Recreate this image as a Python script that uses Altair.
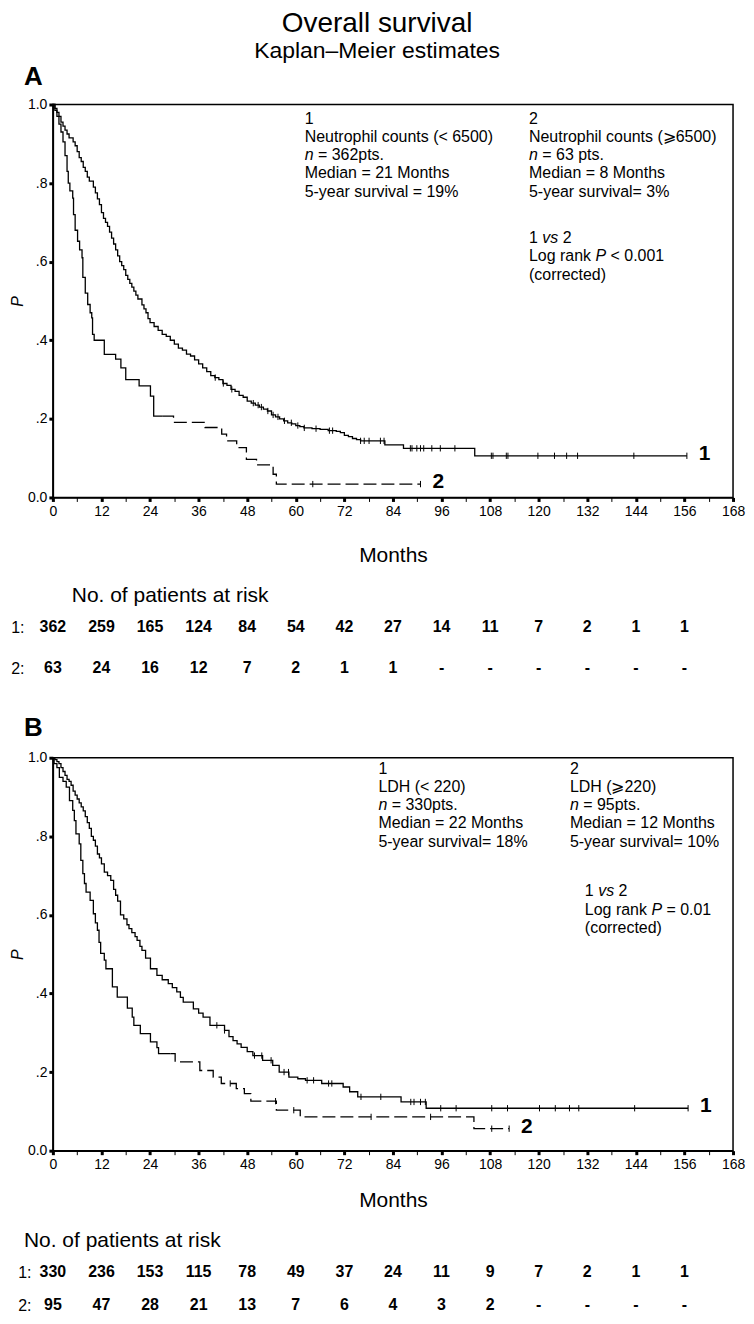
import altair as alt
import pandas as pd

# ------------------------------------------------------------------ data
RISK_MONTHS = [0, 12, 24, 36, 48, 60, 72, 84, 96, 108, 120, 132, 144, 156]

# Panel A - neutrophil counts.  (month, survival after the step)
A1_STEPS = [(0, 1.0), (0.5, 0.99), (1, 0.98), (1.5, 0.97), (2, 0.955), (2.5, 0.945), (3, 0.935),
            (3.5, 0.925), (4, 0.915), (5, 0.905), (5.5, 0.895), (6, 0.88), (6.5, 0.865), (7, 0.855),
            (7.5, 0.84), (8, 0.83), (8.5, 0.815), (9, 0.805), (10, 0.79), (10.5, 0.775), (11, 0.76),
            (11.5, 0.745), (12, 0.725), (12.5, 0.71), (13, 0.70), (13.5, 0.69), (14, 0.675),
            (14.5, 0.66), (15, 0.645), (15.5, 0.63), (16, 0.615), (16.5, 0.60), (17, 0.59),
            (17.5, 0.58), (18, 0.565), (18.5, 0.555), (19, 0.545), (19.5, 0.535), (20, 0.525),
            (20.5, 0.515), (21, 0.505), (22, 0.49), (22.5, 0.48), (23, 0.47), (23.5, 0.455),
            (24, 0.445), (25, 0.435), (26, 0.425), (27, 0.415), (28, 0.41), (29, 0.40), (30, 0.39),
            (31, 0.38), (32, 0.375), (33, 0.365), (34, 0.36), (35, 0.35), (36, 0.34), (37, 0.33),
            (38, 0.32), (39, 0.31), (40, 0.305), (41, 0.30), (42, 0.29), (43, 0.285), (44, 0.275),
            (45, 0.27), (46, 0.26), (47, 0.255), (48, 0.245), (49, 0.24), (50, 0.235), (51, 0.23),
            (52, 0.225), (53, 0.22), (54, 0.21), (55, 0.205), (56, 0.20), (57, 0.195), (58, 0.19),
            (59, 0.187), (60, 0.183), (61, 0.18), (62, 0.177), (64, 0.175), (66, 0.173), (68, 0.17),
            (70, 0.168), (71, 0.165), (72, 0.158), (73, 0.155), (74, 0.15), (75, 0.147), (76, 0.144),
            (82, 0.134), (86.6, 0.125), (104.2, 0.106)]
A1_END = 156.6
A1_CENSOR = [40.1, 42.1, 44.2, 49.5, 50.7, 51.5, 53.1, 54.4, 55.6, 57.2, 58.9, 60.5, 62.1, 65.0,
             68.3, 69.1, 76.0, 76.9, 78.1, 80.9, 81.8, 88.3, 88.7, 89.9, 90.8, 91.6, 93.6, 95.7,
             99.3, 108.3, 108.7, 112.0, 112.4, 119.8, 123.9, 126.9, 129.6, 143.5, 156.6]

A2_STEPS = [(0, 1.0), (0.5, 0.985), (1, 0.97), (1.5, 0.95), (2, 0.93), (2.5, 0.905), (3, 0.87),
            (3.5, 0.83), (3.8, 0.80), (4.2, 0.78), (4.9, 0.762), (5.1, 0.72), (5.5, 0.68),
            (6.1, 0.652), (6.6, 0.63), (7.2, 0.61), (7.4, 0.56), (8, 0.52), (8.6, 0.491),
            (9.2, 0.47), (9.6, 0.457), (9.8, 0.415), (10.2, 0.40), (12.7, 0.364), (15.5, 0.352),
            (16.8, 0.33), (18, 0.30), (21.3, 0.284), (24.1, 0.258), (24.9, 0.207), (29.8, 0.191),
            (37.6, 0.178), (41.7, 0.161), (42.9, 0.144), (45.4, 0.127), (47.8, 0.097),
            (50.3, 0.083), (54.4, 0.059), (55.2, 0.034)]
A2_END = 90.8
A2_CENSOR = [64.2, 90.8]

A_RISK_1 = ["362", "259", "165", "124", "84", "54", "42", "27", "14", "11", "7", "2", "1", "1"]
A_RISK_2 = ["63", "24", "16", "12", "7", "2", "1", "1", "-", "-", "-", "-", "-", "-"]

A_NOTE_1 = ["1", "Neutrophil counts (< 6500)", "*n* = 362pts.", "Median = 21 Months",
            "5-year survival = 19%"]
A_NOTE_2 = ["2", "Neutrophil counts  (\u2a7e6500)", "*n* = 63 pts.", "Median = 8 Months",
            "5-year survival= 3%"]
A_TEST = ["1 *vs* 2", "Log rank *P* <  0.001", "(corrected)"]

# Panel B - LDH
B1_STEPS = [(0, 1.0), (0.5, 0.995), (1, 0.99), (1.5, 0.985), (2, 0.975), (2.5, 0.965), (3, 0.955),
            (3.5, 0.945), (4, 0.94), (4.5, 0.93), (5, 0.915), (5.5, 0.905), (6, 0.895), (6.5, 0.885),
            (7, 0.875), (7.5, 0.865), (8, 0.85), (8.5, 0.835), (9, 0.82), (9.5, 0.80), (10, 0.79),
            (10.5, 0.775), (11, 0.755), (11.5, 0.745), (12, 0.73), (12.7, 0.709), (13.5, 0.70),
            (14.3, 0.688), (15, 0.665), (15.5, 0.65), (16, 0.635), (16.7, 0.60), (17.5, 0.59),
            (18.3, 0.575), (18.8, 0.565), (19.5, 0.555), (20.3, 0.545), (20.8, 0.535), (21.5, 0.52),
            (22, 0.51), (22.9, 0.49), (24.1, 0.463), (25.7, 0.446), (27, 0.435), (28.5, 0.425),
            (29.5, 0.415), (30.6, 0.404), (31.5, 0.39), (32.2, 0.378), (34.7, 0.361), (36, 0.35),
            (37.1, 0.34), (38.8, 0.319), (42.4, 0.306), (43.5, 0.29), (44.5, 0.28), (45.5, 0.272),
            (46.5, 0.263), (48, 0.252), (49.4, 0.242), (51.8, 0.23), (54.3, 0.217), (55.9, 0.20),
            (58.3, 0.187), (60.5, 0.183), (62.4, 0.179), (66.4, 0.171), (71.7, 0.162),
            (73.3, 0.15), (75.3, 0.137), (86, 0.124), (92.2, 0.108)]
B1_END = 156.9
B1_CENSOR = [40.5, 42.4, 49.8, 51.6, 53.9, 57.1, 58.2, 62.8, 64.4, 68.1, 68.9, 76.1, 81.0, 88.4,
             89.2, 90.8, 92.0, 95.8, 99.6, 108.4, 112.3, 120.2, 124.1, 127.6, 129.9, 143.7, 156.9]

B2_STEPS = [(0, 1.0), (0.3, 0.985), (1, 0.975), (1.6, 0.95), (2.5, 0.94), (3.3, 0.925),
            (4.1, 0.891), (4.9, 0.866), (5.3, 0.84), (5.7, 0.806), (6.5, 0.781), (6.9, 0.739),
            (7.4, 0.705), (7.8, 0.68), (8.2, 0.658), (9.2, 0.637), (10, 0.603), (10.5, 0.58),
            (11, 0.561), (11.4, 0.53), (11.8, 0.502), (12.7, 0.485), (13.1, 0.463), (14.7, 0.417),
            (15.9, 0.391), (18.4, 0.363), (19.6, 0.34), (20, 0.319), (21.6, 0.298), (24.1, 0.277),
            (25.7, 0.262), (26.1, 0.247), (30.2, 0.226), (36.3, 0.204), (39.6, 0.187),
            (41.6, 0.171), (45.3, 0.158), (47.3, 0.145), (48.9, 0.126), (55.2, 0.103),
            (61.1, 0.086), (104, 0.056)]
B2_END = 112.7
B2_CENSOR = [43.8, 55.0, 59.5, 78.6, 93.3, 108.4, 112.7]

B_RISK_1 = ["330", "236", "153", "115", "78", "49", "37", "24", "11", "9", "7", "2", "1", "1"]
B_RISK_2 = ["95", "47", "28", "21", "13", "7", "6", "4", "3", "2", "-", "-", "-", "-"]

B_NOTE_1 = ["1", "LDH (< 220)", "*n* = 330pts.", "Median = 22 Months", "5-year survival= 18%"]
B_NOTE_2 = ["2", "LDH (\u2a7e220)", "*n* = 95pts.", "Median = 12 Months", "5-year survival= 10%"]
B_TEST = ["1 *vs* 2", "Log rank *P* = 0.01", "(corrected)"]

# ------------------------------------------------------------------ style / layout
FONT = "Liberation Sans, Arial, Helvetica, sans-serif"
PLOT_W = 682
PLOT_H = 394
XMAX = 168
NOTE_SIZE = 16
LINE_STEP = 18.3 / PLOT_H          # one text line, in survival units
DASH = [13, 5]

CHAR_W = {" ": 278, ".": 278, "=": 584, "<": 584, "(": 333, ")": 333, "%": 889, "-": 333,
          "a": 556, "b": 556, "c": 500, "d": 556, "e": 556, "f": 278, "g": 556, "h": 556,
          "i": 222, "k": 500, "l": 222, "m": 833, "n": 556, "o": 556, "p": 556, "r": 333,
          "s": 500, "t": 278, "u": 556, "v": 500, "y": 500, "D": 722, "H": 722, "L": 556,
          "M": 833, "N": 722, "P": 667}


def text_width(s, size):
    return sum(CHAR_W.get(c, 556) for c in s) * size / 1000.0


def note_rows(lines, t0, s0):
    rows = []
    for i, line in enumerate(lines):
        cum = 0.0
        for j, part in enumerate(line.split("*")):
            if part.strip() == "":
                cum += text_width(part, NOTE_SIZE)
                continue
            lead = len(part) - len(part.lstrip(" "))
            x_px = cum + lead * CHAR_W[" "] * NOTE_SIZE / 1000.0
            rows.append({"t": t0 + x_px * XMAX / PLOT_W, "s": s0 - i * LINE_STEP,
                         "txt": part.strip(" "), "italic": j % 2 == 1})
            cum += text_width(part, NOTE_SIZE)
    return rows


def step_value(steps, t):
    v = steps[0][1]
    for ti, si in steps:
        if ti <= t:
            v = si
        else:
            break
    return v


def curve_frames(steps, end, dash_from=None):
    times = [p[0] for p in steps]
    surv = [p[1] for p in steps]
    if dash_from is None:
        return pd.DataFrame({"t": times + [end], "s": surv + [surv[-1]]}), None
    v = step_value(steps, dash_from)
    st = [t for t in times if t < dash_from] + [dash_from]
    ss = [s for t, s in zip(times, surv) if t < dash_from] + [v]
    dt = [dash_from] + [t for t in times if t > dash_from] + [end]
    ds = [v] + [s for t, s in zip(times, surv) if t > dash_from] + [surv[-1]]
    return pd.DataFrame({"t": st, "s": ss}), pd.DataFrame({"t": dt, "s": ds})


def censor_frame(steps, times):
    return pd.DataFrame({"t": times, "s": [step_value(steps, t) for t in times]})


X_SCALE = alt.Scale(domain=[0, XMAX], nice=False, zero=False)
Y_SCALE = alt.Scale(domain=[0, 1], nice=False)

Y_AXIS = alt.Axis(
    values=[0, 0.2, 0.4, 0.6, 0.8, 1.0],
    labelExpr="datum.value === 0 ? '0.0' : (datum.value === 1 ? '1.0' : "
              "replace(format(datum.value, '.1f'), '0.', '.'))",
    tickWidth=3, tickSize=4, labelPadding=2, labelFontSize=14, domainWidth=1.5,
    title="P", titleFontStyle="italic", titleFontWeight="normal", titleFontSize=16,
    titlePadding=2, grid=False)


def x_axis(title_pad):
    return alt.Axis(
        values=list(range(0, XMAX + 1, 6)),
        labelExpr="datum.value % 12 === 0 ? datum.label : ''",
        tickWidth={"condition": {"test": "datum.value % 12 === 0", "value": 3}, "value": 1},
        tickSize=4, labelPadding=3, labelFontSize=14, labelFlush=False, labelOverlap=False,
        domainWidth=1.5, title="Months", titleFontSize=21, titleFontWeight="normal",
        titlePadding=title_pad, grid=False)


def km_panel(letter, s1, end1, cens1, s2, end2, cens2, dash_from,
             note1, note2, test, col1_t, col2_t, top_s, test_t, test_s,
             months_pad, title_offset):
    X = alt.X("t:Q", scale=X_SCALE, axis=x_axis(months_pad))
    Y = alt.Y("s:Q", scale=Y_SCALE, axis=Y_AXIS)
    c1, _ = curve_frames(s1, end1)
    c2a, c2b = curve_frames(s2, end2, dash_from)
    cen = pd.concat([censor_frame(s1, cens1), censor_frame(s2, cens2)])
    notes = pd.DataFrame(note_rows(note1, col1_t, top_s) + note_rows(note2, col2_t, top_s)
                         + note_rows(test, test_t, test_s))
    ends = pd.DataFrame({"t": [end1, end2], "s": [s1[-1][1], s2[-1][1]], "txt": ["1", "2"]})

    line = dict(interpolate="step-after", color="black", strokeWidth=1.3)
    layers = [
        alt.Chart(c1).mark_line(**line).encode(x=X, y=Y),
        alt.Chart(c2a).mark_line(**line).encode(x=X, y=Y),
        alt.Chart(c2b).mark_line(strokeDash=DASH, **line).encode(x=X, y=Y),
        alt.Chart(cen).mark_point(shape="M0,-1L0,1", size=40, filled=False, color="black",
                                  strokeWidth=1, opacity=1).encode(x=X, y=Y),
        alt.Chart(notes[~notes["italic"]]).mark_text(
            align="left", baseline="middle", fontSize=NOTE_SIZE, font=FONT, color="black"
        ).encode(x=X, y=Y, text="txt:N"),
        alt.Chart(notes[notes["italic"]]).mark_text(
            align="left", baseline="middle", fontSize=NOTE_SIZE, font=FONT, color="black",
            fontStyle="italic"
        ).encode(x=X, y=Y, text="txt:N"),
        alt.Chart(ends).mark_text(
            align="left", baseline="middle", fontSize=21, fontWeight="bold", font=FONT,
            color="black", dx=12, dy=-2
        ).encode(x=X, y=Y, text="txt:N"),
    ]
    return alt.layer(*layers).properties(
        width=PLOT_W, height=PLOT_H,
        title=alt.TitleParams(letter, anchor="start", frame="group", fontSize=26,
                              fontWeight="bold", font=FONT, dx=-29, offset=title_offset))


def risk_table(r1, r2, label_pad, title_dx, height, pad, align, title_offset):
    df = pd.DataFrame({
        "t": RISK_MONTHS + RISK_MONTHS,
        "row": ["1:"] * len(r1) + ["2:"] * len(r2),
        "txt": r1 + r2,
    })
    return alt.Chart(df).mark_text(
        fontSize=16, fontWeight="bold", font=FONT, color="black", baseline="middle"
    ).encode(
        x=alt.X("t:Q", scale=X_SCALE, axis=None),
        y=alt.Y("row:N", scale=alt.Scale(domain=["1:", "2:"], padding=pad, align=align),
                axis=alt.Axis(title=None, domain=False, ticks=False, labelFontSize=16,
                              labelPadding=label_pad, labelColor="black")),
        text="txt:N",
    ).properties(
        width=PLOT_W, height=height,
        view=alt.ViewBackground(stroke="transparent"),
        title=alt.TitleParams("No. of patients at risk", anchor="start", frame="group",
                              fontSize=21, fontWeight="normal", font=FONT, dx=title_dx,
                              offset=title_offset),
    )


panel_a = km_panel("A", A1_STEPS, A1_END, A1_CENSOR, A2_STEPS, A2_END, A2_CENSOR, 27.0,
                   A_NOTE_1, A_NOTE_2, A_TEST, 62.2, 117.6, 0.964, 117.6, 0.66,
                   months_pad=26, title_offset=8)
risk_a = risk_table(A_RISK_1, A_RISK_2, label_pad=29, title_dx=19, height=80,
                    pad=0.477, align=0.315, title_offset=9)
panel_b = km_panel("B", B1_STEPS, B1_END, B1_CENSOR, B2_STEPS, B2_END, B2_CENSOR, 29.0,
                   B_NOTE_1, B_NOTE_2, B_TEST, 80.4, 127.7, 0.972, 131.4, 0.66,
                   months_pad=18, title_offset=10)
risk_b = risk_table(B_RISK_1, B_RISK_2, label_pad=22, title_dx=-29, height=49,
                    pad=0.242, align=0.5, title_offset=13)

chart = alt.vconcat(panel_a, risk_a, panel_b, risk_b, spacing=18).properties(
    padding=0,
    title=alt.TitleParams("Overall survival", subtitle="Kaplan\u2013Meier estimates",
                          fontSize=28, subtitleFontSize=23, fontWeight="normal", anchor="middle",
                          subtitlePadding=2, offset=0, font=FONT, subtitleFont=FONT),
).configure_view(
    stroke="black", strokeWidth=1.5
).configure_axis(
    labelFont=FONT, titleFont=FONT, labelColor="black", titleColor="black",
    domainColor="black", tickColor="black"
).configure_title(
    color="black", subtitleColor="black"
)

chart.save("out.html", embed_options={"renderer": "svg", "actions": False})
